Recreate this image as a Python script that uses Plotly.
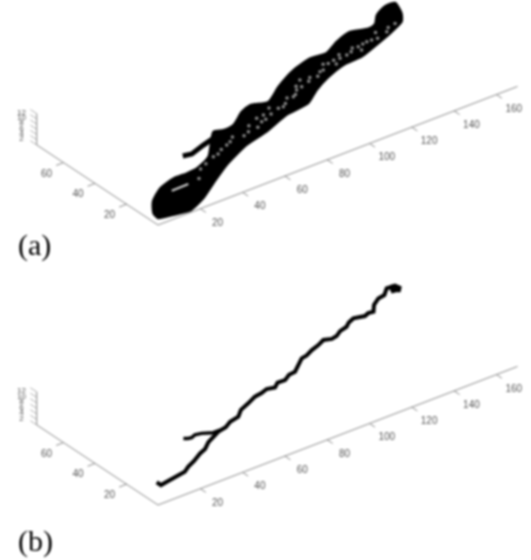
import plotly.graph_objects as go

# ---------- data (chart units) ----------
x_ticks = [20, 40, 60, 80, 100, 120, 140, 160]
y_ticks = [20, 40, 60]
z_ticks = [2, 4, 6, 8, 10, 12]
x_extent = 170
y_extent = 77

band_x = [3.9, 9.0, 17.2, 25.7, 31.9, 37.2, 45.9, 58.7, 62.5, 67.7, 76.2, 81.7, 88.7, 98.5, 110.5,
          120.7, 128.3, 136.2, 144.7, 151.7, 155.6, 160.2, 166.8, 171.3, 168.4, 164.7, 155.9, 147.9,
          136.9, 127.7, 117.6, 108.4, 99.9, 88.1, 74.6, 62.6, 47.6, 35.4, 25.6, 16.0, 9.1, 3.1]
band_y = [8.2, 15.4, 21.8, 24.7, 24.7, 25.3, 29.7, 43.7, 42.4, 43.1, 49.2, 51.3, 49.0, 55.8, 62.4,
          65.6, 65.1, 69.5, 72.4, 70.1, 71.2, 76.3, 79.8, 79.5, 71.4, 66.4, 62.0, 58.7,
          54.5, 53.7, 49.8, 44.8, 38.7, 36.7, 31.2, 27.8, 20.3, 12.3, 5.6, 1.2, 2.5, 4.0]
stub_x = [38.6, 42.2, 49.7, 55.7]
stub_y = [36.1, 35.2, 37.9, 39.7]
streak_x = [19.6, 23.5, 27.6]
streak_y = [17.6, 17.5, 17.8]
gap_x = [33.3, 47.4, 56.7, 59.2, 69.2, 77.7, 81.2, 77.7, 88.7, 90.9, 98.4, 102.4, 105.4, 107.9,
         119.4, 123.9, 117.7, 129.7, 133.2, 140.4, 145.2, 139.9, 147.4, 155.7, 161.9,
         38, 42, 50, 53, 62, 66, 72, 74, 80, 84, 86, 93, 96, 100, 104, 110, 112, 115,
         122, 126, 127, 131, 136, 138, 143, 150, 152, 158]
gap_y = [18.7, 28.5, 32.5, 33.7, 35.5, 41.7, 42.1, 38.5, 42.7, 42.5, 46.2, 49.5, 50.3, 54.8,
         55.4, 58.3, 55.2, 58.6, 59.0, 61.4, 62.4, 58.6, 62.3, 63.8, 66.9,
         24, 26, 29, 31, 36, 34, 39, 36, 39, 41, 45, 44, 47, 47, 52, 52, 54, 53,
         59, 56, 59, 61, 60, 62, 62, 62, 66, 66]

main_x = [9.9, 9.9, 13.9, 16.6, 20.1, 23.0, 26.4, 30.5, 35.9, 39.4, 43.5, 47.4, 51.2, 55.4, 59.2, 63.9, 67.8,
          72.9, 77.9, 81.5, 84.9, 88.1, 91.0, 94.4, 98.0, 101.2, 104.5, 109.2, 112.0, 116.0, 120.0, 124.0, 127.0,
          129.7, 133.0, 136.9, 139.5, 142.7, 147.2, 149.5, 151.7, 155.0, 159.2, 162.5, 166.2,
          169.9, 170.4, 169.1, 167.5, 166.3, 168.2, 169.8, 168.5]
main_y = [14.1, 11.4, 12.2, 12.6, 13.1, 13.9, 16.2, 18.2, 21.5, 23.0, 26.4, 28.5, 30.4, 31.4, 33.7, 34.8, 38.4,
          40.6, 43.1, 43.7, 45.0, 44.0, 46.3, 46.1, 48.4, 48.9, 51.5, 55.4, 56.0, 58.1, 59.5, 61.5, 60.2,
          60.8, 63.0, 64.1, 66.2, 67.6, 66.3, 67.3, 66.9, 71.0, 73.9, 74.5, 78.0,
          77.7, 75.5, 74.1, 75.5, 73.8, 78.1, 76.2, 75.0]
branch_x = [37.7, 39.0, 40.5, 42.8, 45.4, 47.4, 49.2, 52.4]
branch_y = [34.5, 33.4, 33.0, 34.0, 33.3, 32.0, 31.0, 31.0]

# ---------- oblique view of the two horizontal axes ----------
XS = (2.115, 0.815)
YS = (-1.575, 1.04)
Z_PIX_A = 2.6
Z_PIX_B = 2.75


def sx(u, v):
    return [XS[0] * a + YS[0] * b for a, b in zip(u, v)]


def sy(u, v):
    return [XS[1] * a + YS[1] * b for a, b in zip(u, v)]


AXIS = "#8a8a8a"
TEXT = "#555555"
fig = go.Figure()


def line(ax, u, v, color=AXIS, width=1, dz=0.0):
    fig.add_trace(go.Scatter(x=sx(u, v), y=[p + dz for p in sy(u, v)], mode="lines",
                             line=dict(color=color, width=width), xaxis="x" + ax, yaxis="y" + ax,
                             hoverinfo="skip", showlegend=False))


def labels(ax, u, v, text, dz=0.0, size=10):
    fig.add_trace(go.Scatter(x=sx(u, v), y=[p + dz for p in sy(u, v)], mode="text", text=text,
                             textposition="middle center",
                             textfont=dict(family="Liberation Sans", size=size, color=TEXT),
                             xaxis="x" + ax, yaxis="y" + ax, hoverinfo="skip", showlegend=False))


def frame(ax, zpix):
    line(ax, [0, x_extent], [0, 0])
    line(ax, [0, 0], [0, y_extent])
    for t in x_ticks:
        line(ax, [t, t], [0, -3.5])
    for t in y_ticks:
        line(ax, [0, -3.5], [t, t])
    labels(ax, x_ticks, [-11] * len(x_ticks), [str(t) for t in x_ticks], dz=-3)
    labels(ax, [-8] * len(y_ticks), y_ticks, [str(t) for t in y_ticks], dz=-5)
    zs = [z * zpix for z in z_ticks]
    base_x = sx([0], [y_extent])[0]
    base_y = sy([0], [y_extent])[0]
    fig.add_trace(go.Scatter(x=[base_x, base_x], y=[base_y, base_y + max(zs)],
                             mode="lines", line=dict(color=AXIS, width=1), xaxis="x" + ax, yaxis="y" + ax,
                             hoverinfo="skip", showlegend=False))
    for z in [0] + zs:
        line(ax, [0, 0], [y_extent, y_extent + 4], width=0.7, dz=z)
    for t, z in zip(z_ticks, zs):
        labels(ax, [-4.2], [y_extent + 4], [str(t)], dz=z, size=8)


frame("", Z_PIX_A)
fig.add_trace(go.Scatter(x=sx(band_x + band_x[:1], band_y + band_y[:1]),
                         y=sy(band_x + band_x[:1], band_y + band_y[:1]),
                         mode="lines", fill="toself", fillcolor="#000000",
                         line=dict(color="#000000", width=2, shape="spline", smoothing=0.6),
                         hoverinfo="skip", showlegend=False))
line("", stub_x, stub_y, color="#000000", width=5)
line("", streak_x, streak_y, color="#d0d0d0", width=2)
fig.add_trace(go.Scatter(x=sx(gap_x, gap_y), y=sy(gap_x, gap_y), mode="markers",
                         marker=dict(color="#8c8c8c", size=3.5, symbol="circle"),
                         hoverinfo="skip", showlegend=False))

frame("2", Z_PIX_B)
line("2", main_x, main_y, color="#000000", width=4)
line("2", branch_x, branch_y, color="#000000", width=3.5)

hidden = dict(visible=False, showgrid=False, zeroline=False, fixedrange=True)
fig.update_layout(
    width=531, height=560, margin=dict(l=0, r=0, t=0, b=0),
    paper_bgcolor="white", plot_bgcolor="white", showlegend=False,
    xaxis=dict(hidden, domain=[0, 1], range=[-158, 373]),
    yaxis=dict(hidden, domain=[0.5, 1], range=[-55, 225]),
    xaxis2=dict(hidden, domain=[0, 1], range=[-158, 373], anchor="y2"),
    yaxis2=dict(hidden, domain=[0, 0.5], range=[-55, 225], anchor="x2"),
    annotations=[
        dict(text="(a)", xref="paper", yref="paper", x=16 / 531, y=1 - 245 / 560, xanchor="left", yanchor="middle",
             showarrow=False, font=dict(family="Liberation Serif", size=30, color="#000000")),
        dict(text="(b)", xref="paper", yref="paper", x=16 / 531, y=1 - 541 / 560, xanchor="left", yanchor="middle",
             showarrow=False, font=dict(family="Liberation Serif", size=30, color="#000000")),
    ],
)
fig.write_html("out.html", config=dict(displayModeBar=False),
               post_script="document.body.style.margin='0';"
                           "document.body.style.filter='blur(0.8px)';")
